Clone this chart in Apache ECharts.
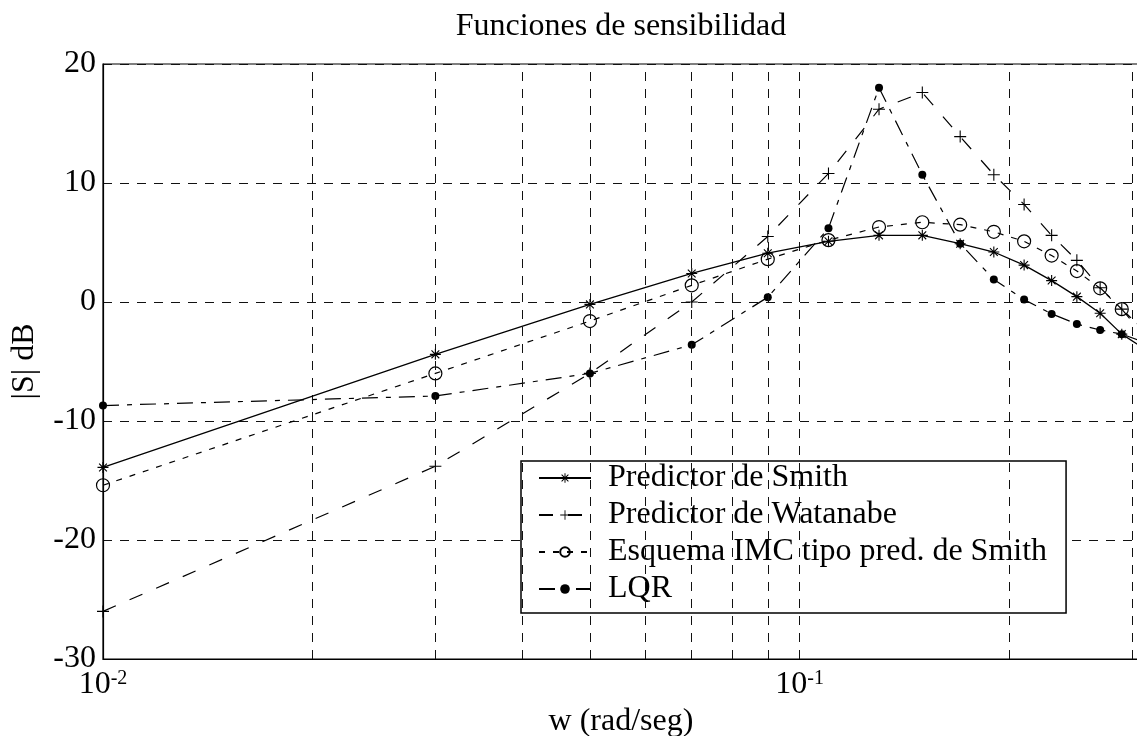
<!DOCTYPE html>
<html><head><meta charset="utf-8">
<script src="https://cdn.jsdelivr.net/npm/echarts@6/dist/echarts.min.js"></script>
<style>html,body{margin:0;padding:0;background:#fff}#c{width:1137px;height:736px}</style>
</head><body><div id="c"></div>
<script>
// Frequencies (rad/seg) where every curve was sampled
const freqs = [0.01, 0.03, 0.05, 0.07, 0.09, 0.11, 0.13, 0.15, 0.17, 0.19, 0.21, 0.23, 0.25, 0.27, 0.29, 0.31];
// |S| in dB
const smith    = [-13.9, -4.4, -0.2, 2.4, 4.1, 5.1, 5.6, 5.6, 4.9, 4.2, 3.1, 1.8, 0.45, -0.95, -2.7, -3.8];
const watanabe = [-26.0, -13.8, -6.0, 0.0, 5.5, 10.8, 16.2, 17.6, 13.9, 10.7, 8.2, 5.6, 3.5, 1.2, -0.6, -2.6];
const imc      = [-15.4, -6.0, -1.6, 1.4, 3.6, 5.2, 6.3, 6.7, 6.5, 5.9, 5.1, 3.9, 2.6, 1.15, -0.6, -2.2];
const lqr      = [-8.7, -7.9, -6.0, -3.6, 0.4, 6.2, 18.0, 10.7, 4.9, 1.9, 0.2, -1.0, -1.85, -2.35, -2.7, -3.3];
const seriesNames = ['Predictor de Smith', 'Predictor de Watanabe', 'Esquema IMC tipo pred. de Smith', 'LQR'];
// vertical grid lines of the log axis
const xGridValues = [0.02, 0.03, 0.04, 0.05, 0.06, 0.07, 0.08, 0.09, 0.1, 0.2, 0.3];
const xMin = 0.01, xMax = 0.307;
const yMin = -30, yMax = 20, yStep = 10;
const titleText = 'Funciones de sensibilidad';
const xName = 'w (rad/seg)';
const yName = '|S| dB';

const FONT = "'Liberation Serif', 'DejaVu Serif', serif";
const FS = 32;
const ASTERISK = 'path://M-1,-10L1,-10L1,10L-1,10Z M-10,-1L10,-1L10,1L-10,1Z M-7.78,-6.36L-6.36,-7.78L7.78,6.36L6.36,7.78Z M6.36,-7.78L7.78,-6.36L-6.36,7.78L-7.78,6.36Z';
const PLUS = 'path://M-0.9,-10L0.9,-10L0.9,10L-0.9,10Z M-10,-0.9L10,-0.9L10,0.9L-10,0.9Z';
const GRID_DASH = [9, 8];

function pairs(vals) { return freqs.map((f, i) => [f, vals[i]]); }

const chart = echarts.init(document.getElementById('c'));
chart.setOption({
  animation: false,
  backgroundColor: '#fff',
  title: {
    text: titleText, left: 616, top: 6, textAlign: 'center',
    textStyle: { fontFamily: FONT, fontSize: FS, fontWeight: 'normal', color: '#000' }
  },
  grid: { left: 103, top: 64, width: 1036, height: 595, show: true, borderColor: '#000', borderWidth: 1.2, containLabel: false, outerBoundsMode: 'none' },
  legend: {
    data: seriesNames, orient: 'vertical', left: 521, top: 461,
    backgroundColor: '#fff', borderColor: '#000', borderWidth: 1.5,
    padding: [1, 19, 8, 17], itemGap: 5, itemWidth: 52, itemHeight: 12,
    align: 'left',
    textStyle: { fontFamily: FONT, fontSize: FS, color: '#000', lineHeight: 32, padding: [0, 0, 0, 12] }
  },
  xAxis: {
    type: 'log', logBase: 10, min: xMin, max: xMax,
    axisLine: { show: true, onZero: false, lineStyle: { color: '#000', width: 1.2 } },
    axisTick: { show: false }, splitLine: { show: false },
    axisLabel: {
      margin: 10, showMaxLabel: false,
      formatter: function (v) {
        const l = Math.log10(v), e = Math.round(l);
        if (Math.abs(l - e) > 1e-6) return '';
        return '{b|10}{s|' + e + '}';
      },
      rich: {
        b: { fontFamily: FONT, fontSize: FS, color: '#000' },
        s: { fontFamily: FONT, fontSize: 20, color: '#000', verticalAlign: 'top' }
      }
    },
    name: xName, nameLocation: 'middle', nameGap: 43,
    nameTextStyle: { fontFamily: FONT, fontSize: FS, color: '#000' }
  },
  yAxis: {
    type: 'value', min: yMin, max: yMax, interval: yStep,
    axisLine: { show: true, onZero: false, lineStyle: { color: '#000', width: 1.2 } },
    axisTick: { show: false },
    splitLine: { show: true, lineStyle: { color: '#111', width: 1, type: GRID_DASH } },
    axisLabel: { fontFamily: FONT, fontSize: FS, color: '#000', margin: 7 },
    name: yName, nameLocation: 'middle', nameRotate: 90, nameGap: 62,
    nameTextStyle: { fontFamily: FONT, fontSize: FS, color: '#000' }
  },
  series: [
    {
      name: 'grid', type: 'line', data: [], silent: true, z: 1,
      markLine: {
        silent: true, symbol: ['none', 'none'], animation: false,
        label: { show: false },
        lineStyle: { color: '#111', width: 1, type: GRID_DASH },
        emphasis: { disabled: true },
        data: xGridValues.map(v => ({ xAxis: v }))
      }
    },
    {
      name: seriesNames[0], type: 'line', data: pairs(smith), z: 5,
      symbol: ASTERISK, symbolSize: 11, showAllSymbol: true,
      lineStyle: { color: '#000', width: 1.3, type: 'solid' },
      itemStyle: { color: '#000' }
    },
    {
      name: seriesNames[1], type: 'line', data: pairs(watanabe), z: 4,
      symbol: PLUS, symbolSize: 12, showAllSymbol: true,
      lineStyle: { color: '#000', width: 1.2, type: [14, 15] },
      itemStyle: { color: '#000' }
    },
    {
      name: seriesNames[2], type: 'line', data: pairs(imc), z: 4,
      symbol: 'circle', symbolSize: 13, showAllSymbol: true,
      lineStyle: { color: '#000', width: 1.2, type: [6, 8] },
      itemStyle: { color: 'rgba(0,0,0,0)', borderColor: '#000', borderWidth: 1.2 }
    },
    {
      name: seriesNames[3], type: 'line', data: pairs(lqr), z: 4,
      symbol: 'circle', symbolSize: 8, showAllSymbol: true,
      lineStyle: { color: '#000', width: 1.2, type: [16, 8, 5, 8] },
      itemStyle: { color: '#000' }
    }
  ]
});
</script>
</body></html>
